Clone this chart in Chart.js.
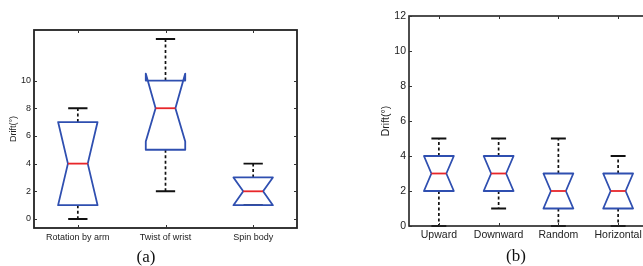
<!DOCTYPE html>
<html>
<head>
<meta charset="utf-8">
<script src="https://cdn.jsdelivr.net/npm/chart.js@4"></script>
<style>
  html, body { margin:0; padding:0; background:#fff; width:643px; height:266px; overflow:hidden; }
  #wrap { position:relative; width:643px; height:266px; overflow:hidden; }
  canvas { position:absolute; top:0; }
  .cap { position:absolute; font-family:"Liberation Serif", serif; font-size:17px; line-height:17px; color:#111; transform:translateX(-50%); white-space:nowrap; }
</style>
</head>
<body>
<div id="wrap">
  <canvas id="ca" width="300" height="266" style="left:0px;width:300px;height:266px"></canvas>
  <canvas id="cb" width="300" height="266" style="left:360px;width:300px;height:266px"></canvas>
  <div class="cap" style="left:146px;top:248px">(a)</div>
  <div class="cap" style="left:516px;top:247px">(b)</div>
</div>
<script>
// ---- Panel (a) data ----
const categoriesA = ['Rotation by arm', 'Twist of wrist', 'Spin body'];
const lowerWhiskerA = [0, 2, 1];
const q1A = [1, 5, 1];
const medianA = [4, 8, 2];
const q3A = [7, 10, 3];
const upperWhiskerA = [8, 13, 4];
const notchLowA = [1, 5.6, 1];
const notchHighA = [7, 10.5, 3];
const yTicksA = [0, 2, 4, 6, 8, 10];

// ---- Panel (b) data ----
const categoriesB = ['Upward', 'Downward', 'Random', 'Horizontal'];
const lowerWhiskerB = [0, 1, 0, 0];
const q1B = [2, 2, 1, 1];
const medianB = [3, 3, 2, 2];
const q3B = [4, 4, 3, 3];
const upperWhiskerB = [5, 5, 5, 4];
const notchLowB = [2, 2, 1, 1];
const notchHighB = [4, 4, 3, 3];
const yTicksB = [0, 2, 4, 6, 8, 10, 12];

const yLabel = 'Drift(°)';
const SANS = '"Liberation Sans", Arial, Helvetica, sans-serif';

function boxPlugin(cfg) {
  return {
    id: 'boxes',
    afterDraw(chart) {
      const ctx = chart.ctx;
      const xs = chart.scales.x, ys = chart.scales.y;
      const ca = chart.chartArea;
      const X = v => xs.getPixelForValue(v);
      const Y = v => ys.getPixelForValue(v);
      ctx.save();
      // whiskers and caps
      cfg.cats.forEach((c, i) => {
        const xc = i + 1;
        ctx.strokeStyle = '#111';
        ctx.lineWidth = 1.7;
        ctx.setLineDash([3, 2.5]);
        ctx.beginPath();
        ctx.moveTo(X(xc), Y(cfg.q3[i])); ctx.lineTo(X(xc), Y(cfg.hi[i]));
        ctx.moveTo(X(xc), Y(cfg.q1[i])); ctx.lineTo(X(xc), Y(cfg.lo[i]));
        ctx.stroke();
        ctx.setLineDash([]);
        ctx.lineWidth = 1.9;
        ctx.beginPath();
        ctx.moveTo(X(xc - cfg.capW), Y(cfg.hi[i])); ctx.lineTo(X(xc + cfg.capW), Y(cfg.hi[i]));
        ctx.moveTo(X(xc - cfg.capW), Y(cfg.lo[i])); ctx.lineTo(X(xc + cfg.capW), Y(cfg.lo[i]));
        ctx.stroke();
      });
      // boxes
      cfg.cats.forEach((c, i) => {
        const xc = i + 1, w = cfg.boxW, wn = cfg.notchW;
        ctx.strokeStyle = '#2f4fb0';
        ctx.lineWidth = 1.8;
        ctx.lineJoin = 'round';
        ctx.beginPath();
        ctx.moveTo(X(xc - w), Y(cfg.q1[i]));
        ctx.lineTo(X(xc - w), Y(cfg.nLo[i]));
        ctx.lineTo(X(xc - wn), Y(cfg.med[i]));
        ctx.lineTo(X(xc - w), Y(cfg.nHi[i]));
        ctx.lineTo(X(xc - w), Y(cfg.q3[i]));
        ctx.lineTo(X(xc + w), Y(cfg.q3[i]));
        ctx.lineTo(X(xc + w), Y(cfg.nHi[i]));
        ctx.lineTo(X(xc + wn), Y(cfg.med[i]));
        ctx.lineTo(X(xc + w), Y(cfg.nLo[i]));
        ctx.lineTo(X(xc + w), Y(cfg.q1[i]));
        ctx.closePath();
        ctx.stroke();
        ctx.strokeStyle = '#e8262a';
        ctx.lineWidth = 1.8;
        ctx.beginPath();
        ctx.moveTo(X(xc - wn), Y(cfg.med[i])); ctx.lineTo(X(xc + wn), Y(cfg.med[i]));
        ctx.stroke();
      });
      // frame
      ctx.strokeStyle = '#222';
      ctx.lineJoin = 'miter';
      ctx.lineWidth = cfg.frameW;
      ctx.strokeRect(ca.left, ca.top, ca.right - ca.left, ca.bottom - ca.top);
      // inside ticks
      ctx.lineWidth = 1;
      ctx.strokeStyle = '#333';
      ctx.beginPath();
      cfg.cats.forEach((c, i) => {
        const x = Math.round(X(i + 1)) + 0.5;
        ctx.moveTo(x, ca.bottom); ctx.lineTo(x, ca.bottom - 3);
        ctx.moveTo(x, ca.top); ctx.lineTo(x, ca.top + 3);
      });
      cfg.yTicks.forEach(v => {
        const y = Math.round(Y(v)) + 0.5;
        ctx.moveTo(ca.left, y); ctx.lineTo(ca.left + 3, y);
        ctx.moveTo(ca.right, y); ctx.lineTo(ca.right - 3, y);
      });
      ctx.stroke();
      ctx.restore();
    }
  };
}

function makeChart(id, cfg) {
  return new Chart(document.getElementById(id), {
    type: 'scatter',
    data: { datasets: [] },
    options: {
      responsive: false,
      animation: false,
      devicePixelRatio: 1,
      layout: { padding: { top: cfg.padTop, right: cfg.padRight, left: 0, bottom: 0 } },
      plugins: { legend: { display: false }, tooltip: { enabled: false }, title: { display: false } },
      scales: {
        x: {
          type: 'linear',
          min: 0.5,
          max: cfg.cats.length + 0.5,
          afterBuildTicks: s => { s.ticks = cfg.cats.map((c, i) => ({ value: i + 1 })); },
          afterFit: s => { s.height = cfg.xH; },
          ticks: {
            callback: (v, idx) => cfg.cats[idx],
            font: { family: SANS, size: cfg.fontSize },
            color: '#222',
            padding: cfg.xPad,
            maxRotation: 0,
            minRotation: 0,
            autoSkip: false
          },
          grid: { display: false, drawTicks: false },
          border: { display: false }
        },
        y: {
          type: 'linear',
          min: cfg.yMin,
          max: cfg.yMax,
          afterBuildTicks: s => { s.ticks = cfg.yTicks.map(v => ({ value: v })); },
          afterFit: s => { s.width = cfg.yW; },
          ticks: {
            callback: v => String(v),
            font: { family: SANS, size: cfg.fontSize },
            color: '#222',
            padding: 3,
            autoSkip: false
          },
          title: {
            display: true,
            text: yLabel,
            font: { family: SANS, size: cfg.fontSize },
            color: '#222',
            padding: { top: cfg.titlePad, bottom: 0 }
          },
          grid: { display: false, drawTicks: false },
          border: { display: false }
        }
      }
    },
    plugins: [boxPlugin(cfg)]
  });
}

makeChart('ca', {
  cats: categoriesA, lo: lowerWhiskerA, q1: q1A, med: medianA, q3: q3A, hi: upperWhiskerA,
  nLo: notchLowA, nHi: notchHighA, yTicks: yTicksA,
  yMin: -0.65, yMax: 13.65,
  padTop: 30, padRight: 3, xH: 38, yW: 34, xPad: 4, titlePad: 8.5,
  fontSize: 9, boxW: 0.225, notchW: 0.113, capW: 0.11, frameW: 1.8
});

makeChart('cb', {
  cats: categoriesB, lo: lowerWhiskerB, q1: q1B, med: medianB, q3: q3B, hi: upperWhiskerB,
  nLo: notchLowB, nHi: notchHighB, yTicks: yTicksB,
  yMin: 0, yMax: 12,
  padTop: 16, padRight: 12, xH: 40, yW: 49, xPad: 3, titlePad: 19.5,
  fontSize: 10.5, boxW: 0.25, notchW: 0.125, capW: 0.125, frameW: 1.6
});
</script>
</body>
</html>
